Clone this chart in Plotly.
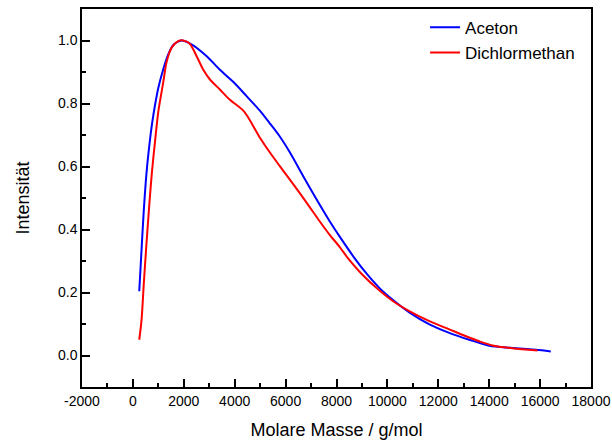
import plotly.graph_objects as go

# Molar mass distribution (normalised intensity) for two solvents
aceton_mass = [250, 340, 430, 535, 650, 760, 880, 1000, 1190, 1385, 1580, 1910, 2300,
               2890, 3410, 3950, 4460, 4980, 5370, 5765, 6160, 6550, 6940, 7330, 7725,
               8120, 8700, 9200, 9690, 10210, 10860, 11650, 12430, 13220, 14000, 14910,
               15830, 16420]
aceton_int = [0.204, 0.336, 0.463, 0.580, 0.670, 0.740, 0.800, 0.850, 0.908, 0.955,
              0.985, 1.000, 0.988, 0.951, 0.908, 0.868, 0.824, 0.778, 0.738, 0.696,
              0.646, 0.590, 0.534, 0.480, 0.427, 0.378, 0.310, 0.258, 0.214, 0.177,
              0.137, 0.099, 0.072, 0.050, 0.031, 0.024, 0.018, 0.013]

dcm_mass = [250, 340, 430, 535, 640, 745, 870, 1000, 1190, 1320, 1520, 1780,
            1975, 2235, 2500, 2760, 3020, 3410, 3800, 4330, 4520, 4980, 5370, 5765,
            6160, 6550, 6940, 7330, 7725, 8120, 8440, 9000, 9690, 10210, 10860, 11650,
            12430, 13090, 13610, 14130, 14910, 15900]
dcm_int = [0.050, 0.113, 0.230, 0.357, 0.474, 0.580, 0.680, 0.775, 0.866, 0.930,
           0.977, 0.998, 1.000, 0.990, 0.951, 0.908, 0.877, 0.845, 0.813, 0.778,
           0.757, 0.693, 0.646, 0.602, 0.559, 0.516, 0.472, 0.427, 0.384, 0.345,
           0.310, 0.258, 0.206, 0.173, 0.141, 0.109, 0.083, 0.061, 0.045, 0.032,
           0.023, 0.016]

x_ticks = [-2000, 0, 2000, 4000, 6000, 8000, 10000, 12000, 14000, 16000, 18000]
x_labels = ["-2000", "0", "2000", "4000", "6000", "8000", "10000", "12000",
            "14000", "16000", "18000"]
y_ticks = [0.0, 0.2, 0.4, 0.6, 0.8, 1.0]

font_family = "Liberation Sans, Arial, sans-serif"

fig = go.Figure()
fig.add_trace(go.Scatter(x=aceton_mass, y=aceton_int, mode="lines", name="Aceton",
                         line=dict(color="#0000ff", width=2, shape="spline", smoothing=0.8)))
fig.add_trace(go.Scatter(x=dcm_mass, y=dcm_int, mode="lines", name="Dichlormethan",
                         line=dict(color="#ff0000", width=2, shape="spline", smoothing=0.8)))

axis_common = dict(
    showline=True, linecolor="black", linewidth=1.5, mirror=True,
    showgrid=False, zeroline=False, automargin=False,
    ticks="inside", ticklen=8, tickwidth=1.5, tickcolor="black",
    tickfont=dict(family=font_family, size=14, color="black"),
)

fig.update_xaxes(
    range=[-2000, 18000], tickvals=x_ticks, ticktext=x_labels,
    minor=dict(ticks="inside", ticklen=4, tickwidth=1.5, tickcolor="black", dtick=1000,
               tick0=0, showgrid=False),
    title=dict(text="Molare Masse / g/mol", font=dict(family=font_family, size=18, color="black"),
               standoff=16),
    **axis_common,
)
fig.update_yaxes(
    range=[-0.1, 1.1], tickvals=y_ticks, tickformat=".1f",
    minor=dict(ticks="inside", ticklen=4, tickwidth=1.5, tickcolor="black", dtick=0.1,
               tick0=0, showgrid=False),
    title=dict(text="Intensität", font=dict(family=font_family, size=18, color="black"),
               standoff=24),
    **axis_common,
)

fig.update_layout(
    width=612, height=441,
    margin=dict(l=82, r=21, t=9, b=54, autoexpand=False),
    paper_bgcolor="white", plot_bgcolor="white",
    font=dict(family=font_family, color="black"),
    legend=dict(x=0.674, y=0.998, xanchor="left", yanchor="top",
                bgcolor="rgba(0,0,0,0)", borderwidth=0,
                font=dict(family=font_family, size=17, color="black"),
                tracegroupgap=0, itemwidth=30),
    showlegend=True,
)

fig.write_html("out.html")
